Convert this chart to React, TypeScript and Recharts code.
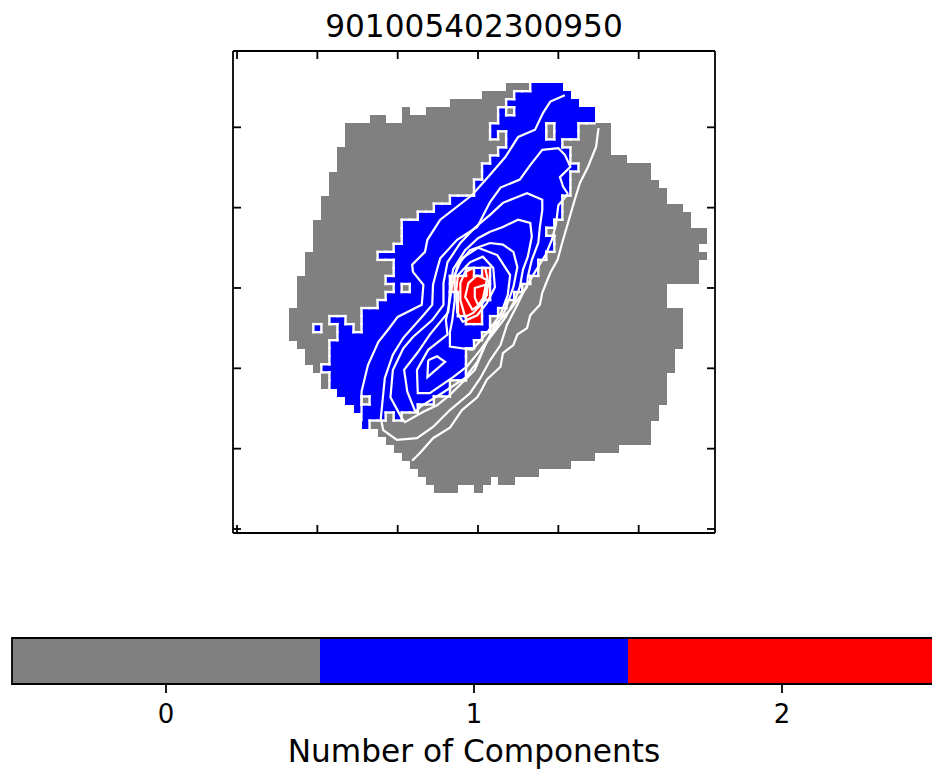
import { ScatterChart, Scatter, XAxis, YAxis, ComposedChart, ReferenceArea } from 'recharts';

const title = '901005402300950';
const barLabel = 'Number of Components';
const axisTicks = [0, 10, 20, 30, 40, 50];
const barTicks = [0, 1, 2];
const levelColors = ['#808080', '#0000ff', '#ff0000'];

// [row from the top, first column, last column]
const maskRuns = [
  [4, 34, 40], [5, 31, 41], [6, 27, 42], [7, 21, 21], [7, 24, 44], [8, 17, 18], [8, 21, 44],
  [9, 14, 46], [10, 14, 46], [11, 14, 46], [12, 13, 46], [13, 13, 48], [14, 13, 51], [15, 12, 51],
  [16, 12, 52], [17, 12, 53], [18, 11, 53], [19, 11, 55], [20, 11, 56], [21, 10, 56], [22, 10, 58],
  [23, 10, 58], [24, 10, 57], [25, 9, 58], [26, 9, 57], [27, 9, 57], [28, 8, 57], [29, 8, 53],
  [30, 8, 53], [31, 8, 53], [32, 7, 55], [33, 7, 55], [34, 7, 55], [35, 7, 55], [36, 8, 55],
  [37, 9, 54], [38, 9, 54], [39, 10, 54], [40, 11, 53], [41, 11, 53], [42, 13, 53], [43, 14, 53],
  [44, 15, 52], [45, 16, 52], [46, 16, 51], [47, 18, 51], [48, 19, 51], [49, 20, 47], [50, 21, 44],
  [51, 22, 41], [52, 23, 37], [53, 24, 31], [53, 33, 34], [54, 25, 27], [54, 30, 30],
];

const blueRuns = [
  [4, 37, 40], [5, 35, 41], [6, 34, 42], [7, 33, 33], [7, 35, 44], [8, 33, 44],
  [9, 32, 38], [9, 40, 42], [10, 32, 32], [10, 34, 38], [10, 40, 42], [11, 34, 40], [12, 33, 41],
  [13, 32, 41], [14, 31, 42], [15, 31, 41], [16, 30, 41], [17, 30, 41], [18, 27, 40], [19, 25, 40],
  [20, 23, 40], [21, 21, 39], [22, 21, 38], [23, 21, 39], [24, 20, 39], [25, 18, 38], [26, 20, 37],
  [27, 20, 37], [28, 19, 36], [29, 20, 20], [29, 22, 35], [30, 19, 34], [31, 18, 33], [32, 16, 32],
  [33, 12, 13], [33, 16, 31], [34, 10, 10], [34, 13, 14], [34, 16, 31], [35, 13, 30], [36, 12, 29],
  [37, 12, 28], [38, 12, 28], [39, 11, 28], [40, 12, 28], [41, 12, 26], [42, 13, 26], [43, 14, 15],
  [43, 17, 24], [44, 15, 22], [45, 16, 18], [45, 20, 20], [46, 16, 16],
];

const redRuns = [
  [27, 29, 29], [27, 31, 31], [28, 27, 31], [29, 27, 31], [30, 28, 31], [31, 28, 30], [32, 28, 30], [33, 29, 30],
];

const contourOuter = [
  [45.0, 49.9], [44.7, 47.6], [43.7, 45.1], [42.7, 43.1], [42.1, 41.2], [41.2, 38.1], [40.5, 35.7], [39.9, 33.5],
  [39.0, 31.9], [38.4, 30.4], [38.0, 29.4], [37.7, 27.9], [36.5, 26.6], [36.1, 25.0], [34.9, 24.2], [34.4, 22.9],
  [33.1, 21.9], [32.8, 20.2], [31.1, 18.6], [30.6, 17.6], [29.9, 16.4], [28.0, 14.8], [26.5, 12.6], [24.4, 11.3],
  [22.8, 9.5], [21.8, 8.5],
];
const contourA = [
  [15.5, 13.4], [15.5, 17.1], [16.3, 20.4], [17.6, 23.3], [18.8, 24.8], [20.0, 26.4], [23.0, 27.9], [23.2, 30.4],
  [21.9, 32.0], [21.8, 32.9], [23.4, 34.5], [23.7, 36.0], [25.3, 38.5], [29.3, 41.6], [31.5, 44.1], [33.4, 46.3],
  [35.0, 48.8], [37.1, 49.7], [38.1, 51.8], [39.0, 53.2], [40.8, 54.0],
];
const contourB = [
  [41.2, 41.7], [40.6, 42.6], [40.2, 43.8], [41.5, 45.1], [40.8, 46.6], [40.0, 47.4], [38.0, 47.2], [36.5, 45.3],
  [35.2, 43.5], [32.8, 42.5], [31.5, 40.7], [29.9, 37.6], [27.4, 36.0], [25.3, 33.7], [24.9, 32.3], [24.4, 30.4],
  [24.3, 27.9], [23.2, 26.6], [20.7, 23.8], [19.4, 21.7], [18.4, 18.8], [17.9, 13.8], [18.2, 12.3], [19.9, 11.1],
  [22.4, 11.3], [24.4, 12.7], [26.5, 14.8], [29.0, 16.9], [30.3, 18.8], [31.5, 21.0], [32.8, 22.9], [33.6, 25.4],
  [34.9, 27.9], [35.9, 30.0], [37.1, 32.0], [38.4, 34.1], [39.2, 36.0], [39.7, 37.9], [40.0, 40.3], [41.2, 41.7],
];
const contourC = [
  [25.7, 29.5], [25.7, 30.6], [26.2, 33.2], [27.8, 35.6], [29.6, 37.5], [31.5, 39.1], [33.1, 40.6], [34.6, 41.2],
  [36.1, 41.8], [38.0, 41.0], [38.0, 39.7], [37.7, 37.6], [37.5, 35.6], [36.7, 33.5], [36.2, 31.4], [36.1, 30.1],
  [35.2, 28.9], [34.0, 27.3], [32.1, 25.4], [30.9, 22.9], [29.6, 19.8], [26.5, 16.7], [24.9, 15.4], [23.2, 14.6],
  [20.9, 13.3], [20.5, 13.8], [19.1, 16.4], [19.4, 19.8], [20.7, 22.5], [21.9, 23.9], [24.3, 26.0], [25.7, 27.9],
  [25.7, 29.5],
];
const contourD = [
  [31.5, 37.0], [33.1, 37.6], [35.0, 38.5], [36.5, 38.1], [36.7, 36.4], [36.2, 33.9], [35.6, 32.3], [35.2, 30.1],
  [34.6, 28.5], [33.4, 26.3], [31.1, 23.3], [29.9, 20.8], [28.4, 18.8], [25.5, 16.9], [22.8, 15.2], [22.2, 14.6],
  [21.2, 17.1], [20.8, 19.8], [22.5, 22.0], [24.0, 24.2], [26.3, 27.0], [26.5, 29.8], [26.9, 32.3], [28.4, 34.7],
  [30.0, 36.2], [31.5, 37.0],
];
const contourE = [
  [31.5, 35.6], [33.1, 35.4], [34.4, 34.5], [34.9, 32.6], [34.4, 30.1], [33.4, 27.3], [32.1, 24.8], [30.3, 22.3],
  [28.6, 20.2], [26.9, 18.9], [24.0, 16.9], [22.5, 16.9], [22.4, 19.8], [23.8, 22.3], [26.2, 24.2], [26.0, 26.0],
  [26.4, 27.9], [26.8, 30.4], [27.5, 32.9], [29.0, 34.7], [31.5, 35.6],
];
const contourF = [
  [30.0, 35.0], [32.4, 34.1], [34.0, 31.6], [33.7, 29.1], [32.8, 26.7], [31.1, 24.4], [29.3, 22.3], [26.5, 22.7],
  [26.5, 24.5], [26.8, 26.0], [27.1, 28.5], [27.1, 31.6], [28.0, 33.7], [30.0, 35.0],
];
const contourG = [
  [29.0, 33.2], [30.6, 33.9], [31.9, 32.5], [32.1, 30.1], [31.1, 28.1], [29.9, 26.6], [28.1, 25.8], [27.4, 27.0],
  [27.3, 29.8], [27.5, 31.6], [29.0, 33.2],
];
const contourH = [
  [29.4, 32.5], [30.9, 32.5], [31.3, 30.6], [30.9, 28.5], [29.4, 26.9], [28.4, 26.4], [27.8, 28.5], [27.8, 30.6],
  [28.4, 32.0], [29.4, 32.5],
];
const contourI = [
  [29.9, 31.6], [31.1, 31.0], [30.5, 28.1], [29.3, 27.3], [28.4, 28.9], [28.8, 30.6], [29.9, 31.6],
];
const contourJ = [
  [30.9, 30.4], [31.1, 29.1], [30.0, 27.9], [29.6, 28.8], [29.6, 30.0], [30.9, 30.4],
];
const contourLoop = [
  [23.8, 21.0], [24.9, 21.5], [25.9, 20.8], [23.7, 18.9], [23.8, 21.0],
];
const contours = [
  contourOuter, contourA, contourB, contourC, contourD, contourE, contourF,
  contourG, contourH, contourI, contourJ, contourLoop,
];

const CELL = 482 / 60;
const grid: number[][] = Array.from({ length: 60 }, () => Array(60).fill(-1));
[maskRuns, blueRuns, redRuns].forEach((runs, level) => {
  runs.forEach(([row, from, to]) => {
    for (let c = from; c <= to; c++) grid[row][c] = level;
  });
});

const cells: { x: number; y: number; level: number; right: boolean; up: boolean }[] = [];
grid.forEach((line, row) => {
  line.forEach((level, c) => {
    if (level < 0) return;
    const next = line[c + 1] ?? -1;
    const above = grid[row - 1]?.[c] ?? -1;
    cells.push({
      x: c,
      y: 59 - row,
      level,
      right: next >= 0 && next !== level,
      up: above >= 0 && above !== level,
    });
  });
});

function CellRect({ cx, cy, payload }: any) {
  return (
    <rect
      x={cx - CELL / 2}
      y={cy - CELL / 2}
      width={CELL + 0.5}
      height={CELL + 0.5}
      fill={levelColors[payload.level]}
      shapeRendering="crispEdges"
    />
  );
}

function CellEdges({ cx, cy, payload }: any) {
  const h = CELL / 2;
  return (
    <g stroke="#ffffff" strokeWidth={2.4} strokeLinecap="square">
      {payload.right && <line x1={cx + h} y1={cy - h} x2={cx + h} y2={cy + h} />}
      {payload.up && <line x1={cx - h} y1={cy - h} x2={cx + h} y2={cy - h} />}
    </g>
  );
}

const noMark = () => <g />;

function MapChart() {
  const common = {
    type: 'number' as const,
    domain: [-0.5, 59.5],
    ticks: axisTicks,
    allowDataOverflow: true,
    interval: 0,
    tick: noMark,
    tickSize: -8,
    axisLine: { stroke: '#000', strokeWidth: 1.8 },
    tickLine: { stroke: '#000', strokeWidth: 1.8 },
  };
  return (
    <ScatterChart
      width={932}
      height={771}
      margin={{ top: 21, right: 187, bottom: 208, left: 203 }}
      style={{ position: 'absolute', left: 0, top: 0 }}
    >
      <XAxis {...common} dataKey="x" height={30} />
      <XAxis
        {...common}
        xAxisId="top"
        orientation="top"
        height={30}
        tickLine={false}
        label={{
          value: title,
          position: 'top',
          offset: -16,
          style: { fontFamily: 'DejaVu Sans', fontSize: 31.2, fill: '#000' },
        }}
      />
      <YAxis {...common} dataKey="y" width={30} />
      <YAxis {...common} yAxisId="right" orientation="right" width={30} />
      {levelColors.map((color, level) => (
        <Scatter
          key={color}
          data={cells.filter((c) => c.level === level)}
          fill={color}
          shape={CellRect}
          isAnimationActive={false}
        />
      ))}
      <Scatter data={cells.filter((c) => c.right || c.up)} shape={CellEdges} isAnimationActive={false} />
      {contours.map((points, i) => (
        <Scatter
          key={i}
          data={points.map(([x, y]) => ({ x, y }))}
          line={{ stroke: '#ffffff', strokeWidth: 2.2 }}
          lineType="joint"
          shape={noMark}
          isAnimationActive={false}
        />
      ))}
    </ScatterChart>
  );
}

// the top axis above draws no tick lines, so a bottom axis sits on the top edge for them
function TopTicks() {
  return (
    <ComposedChart
      width={932}
      height={81}
      data={[{ v: 0 }]}
      margin={{ top: 21, right: 217, bottom: 0, left: 233 }}
      style={{ position: 'absolute', left: 0, top: 0 }}
    >
      <XAxis
        type="number"
        dataKey="v"
        domain={[-0.5, 59.5]}
        ticks={axisTicks}
        interval={0}
        height={30}
        allowDataOverflow
        axisLine={false}
        tickSize={8}
        tick={noMark}
        tickLine={{ stroke: '#000', strokeWidth: 1.8 }}
      />
      <YAxis type="number" domain={[0, 1]} allowDataOverflow hide />
    </ComposedChart>
  );
}

function ColorBar() {
  return (
    <ComposedChart
      width={960}
      height={771}
      data={[{ v: 0 }]}
      margin={{ top: 638, right: 24, bottom: 27, left: 12 }}
      style={{ position: 'absolute', left: 0, top: 0 }}
    >
      <XAxis
        type="number"
        dataKey="v"
        domain={[-0.5, 2.5]}
        ticks={barTicks}
        height={60}
        allowDataOverflow
        axisLine={false}
        tickSize={9}
        tickMargin={12}
        tickLine={{ stroke: '#000', strokeWidth: 1.8 }}
        tick={{ fontFamily: 'DejaVu Sans', fontSize: 26, fill: '#000' }}
        label={{
          value: barLabel,
          position: 'insideBottom',
          offset: -18,
          style: { fontFamily: 'DejaVu Sans', fontSize: 31.2, fill: '#000' },
        }}
      />
      <YAxis type="number" domain={[0, 1]} allowDataOverflow hide />
      {levelColors.map((color, level) => (
        <ReferenceArea
          key={color}
          x1={level - 0.5}
          x2={level + 0.5}
          fill={color}
          fillOpacity={1}
          stroke="none"
          ifOverflow="visible"
        />
      ))}
      <ReferenceArea x1={-0.5} x2={2.5} fill="none" stroke="#000" strokeWidth={1.8} ifOverflow="visible" />
    </ComposedChart>
  );
}

export default function App() {
  return (
    <div style={{ position: 'absolute', left: 0, top: 0, width: 932, height: 771, overflow: 'hidden', background: '#fff' }}>
      <MapChart />
      <ColorBar />
      <TopTicks />
    </div>
  );
}
